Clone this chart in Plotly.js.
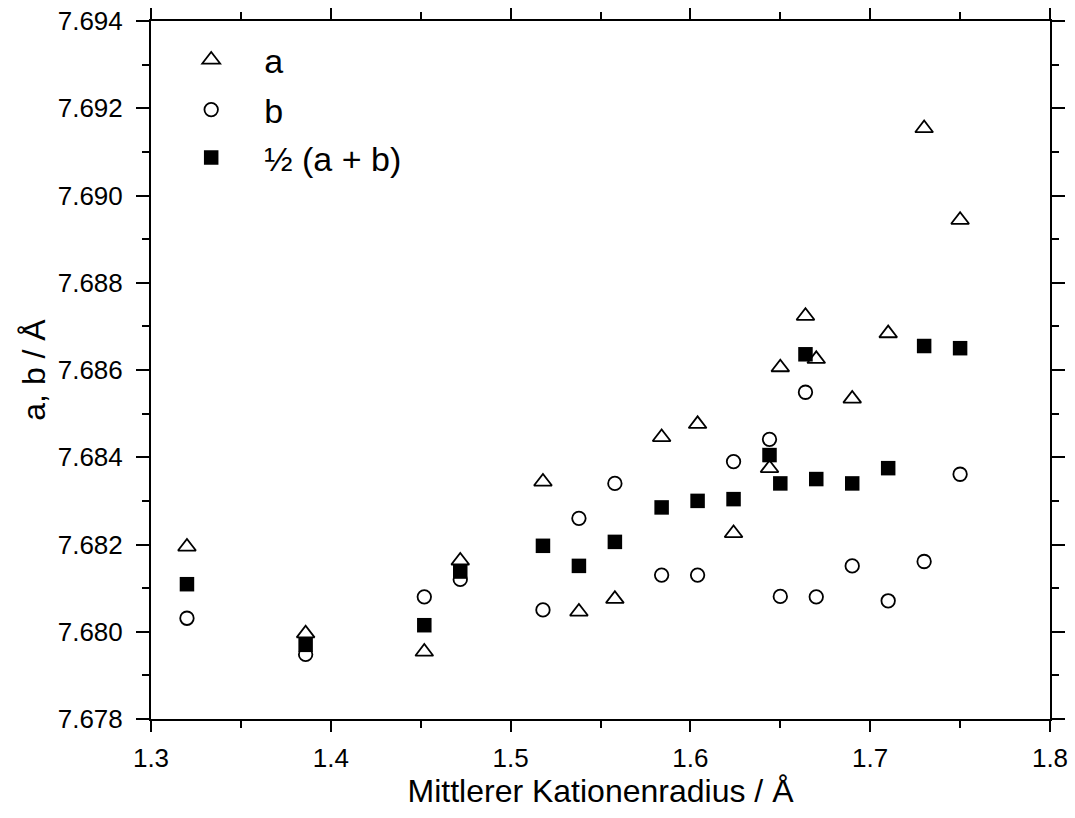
<!DOCTYPE html>
<html>
<head>
<meta charset="utf-8">
<script src="https://cdn.plot.ly/plotly-3.0.1.min.js"></script>
<style>
html,body{margin:0;padding:0;background:#fff;}
#chart{width:1075px;height:818px;}
</style>
</head>
<body>
<div id="chart"></div>
<script>
// Mittlerer Kationenradius / Å
const radius = [1.320, 1.386, 1.452, 1.472, 1.518, 1.538, 1.558, 1.584, 1.604, 1.624, 1.644, 1.650, 1.664, 1.670, 1.690, 1.710, 1.730, 1.750];
// lattice parameter a / Å
const aVals = [7.68195, 7.67996, 7.67954, 7.68163, 7.68344, 7.68046, 7.68075, 7.68446, 7.68476, 7.68226, 7.68375, 7.68606, 7.68724, 7.68625, 7.68534, 7.68684, 7.69154, 7.68944];
// lattice parameter b / Å
const bVals = [7.68031, 7.67948, 7.68080, 7.68120, 7.68050, 7.68260, 7.68340, 7.68130, 7.68130, 7.68390, 7.68441, 7.68081, 7.68549, 7.68080, 7.68151, 7.68071, 7.68161, 7.68361];
// ½ (a + b) / Å
const meanVals = [7.68109, 7.67970, 7.68015, 7.68138, 7.68197, 7.68151, 7.68206, 7.68285, 7.68300, 7.68304, 7.68405, 7.68340, 7.68636, 7.68350, 7.68340, 7.68375, 7.68655, 7.68650];

const seriesNames = ['a', 'b', '½ (a + b)'];
const xTitle = 'Mittlerer Kationenradius / Å';
const yTitle = 'a, b / Å';

const fontFam = 'Liberation Sans, Arial, sans-serif';

const traces = [
  {x: radius, y: aVals, name: seriesNames[0], type: 'scatter', mode: 'markers', legend: 'legend',
   marker: {symbol: 'triangle-up-open', size: 15.5, color: '#000', line: {width: 1.8, color: '#000'}}},
  {x: radius, y: bVals, name: seriesNames[1], type: 'scatter', mode: 'markers', legend: 'legend2',
   marker: {symbol: 'circle-open', size: 13.5, color: '#000', line: {width: 1.8, color: '#000'}}},
  {x: radius, y: meanVals, name: seriesNames[2], type: 'scatter', mode: 'markers', legend: 'legend3',
   marker: {symbol: 'square', size: 14.5, color: '#000', line: {width: 0}}}
];

const axisCommon = {
  showgrid: false, zeroline: false, showline: true, linecolor: '#000', linewidth: 2,
  ticks: 'outside', ticklen: 11, tickwidth: 2, tickcolor: '#000', mirror: 'ticks',
  ticklabelstandoff: 4,
  tickfont: {family: fontFam, size: 26, color: '#000'}
};

function legendAt(yPos) {
  return {x: 0.008, y: yPos, xanchor: 'left', yanchor: 'middle', bgcolor: 'rgba(0,0,0,0)',
          borderwidth: 0, itemwidth: 96,
          font: {family: fontFam, size: 34, color: '#000'}};
}

const layout = {
  width: 1075, height: 818,
  margin: {l: 151, r: 25, t: 21, b: 99},
  paper_bgcolor: '#fff', plot_bgcolor: '#fff',
  font: {family: fontFam, color: '#000'},
  showlegend: true,
  legend: legendAt(0.944),
  legend2: legendAt(0.8725),
  legend3: legendAt(0.8037),
  xaxis: Object.assign({}, axisCommon, {
    range: [1.3, 1.8], dtick: 0.1, tick0: 1.3, tickformat: '.1f',
    minor: {dtick: 0.05, ticks: 'outside', ticklen: 7, tickwidth: 2, tickcolor: '#000'},
    title: {text: xTitle, font: {family: fontFam, size: 32, color: '#000'}, standoff: 2}
  }),
  yaxis: Object.assign({}, axisCommon, {
    range: [7.678, 7.694], dtick: 0.002, tick0: 7.678, tickformat: '.3f',
    ticklen: 13, ticklabelstandoff: 8,
    minor: {dtick: 0.001, ticks: 'outside', ticklen: 7, tickwidth: 2, tickcolor: '#000'},
    title: {text: yTitle, font: {family: fontFam, size: 32, color: '#000'}, standoff: 3}
  })
};

Plotly.newPlot('chart', traces, layout, {displayModeBar: false, staticPlot: true});
</script>
</body>
</html>
